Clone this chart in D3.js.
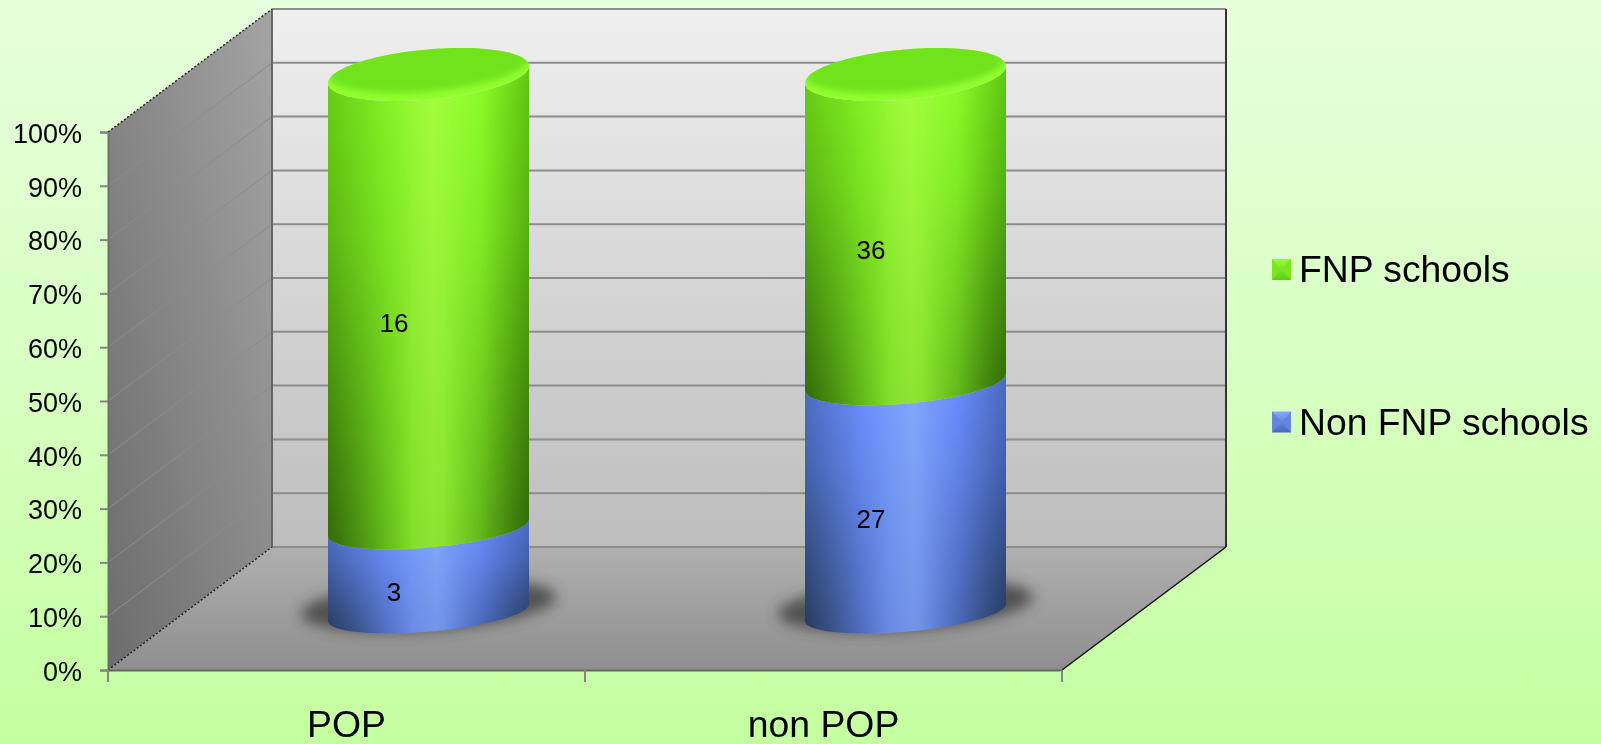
<!DOCTYPE html>
<html>
<head>
<meta charset="utf-8">
<script src="https://cdn.jsdelivr.net/npm/d3@7"></script>
<style>
html, body { margin: 0; padding: 0; background: #c6ffa6; overflow: hidden; }
svg { display: block; filter: blur(0.5px); }
text { font-family: "Liberation Sans", Arial, sans-serif; fill: #000; }
</style>
</head>
<body>
<div class="container"></div>
<script>
var width = 1601;
var height = 744;

var categories = ["POP", "non POP"];
var series_names = ["Non FNP schools", "FNP schools"];
var non_fnp_values = [3, 27];
var fnp_values = [16, 36];
var y_ticks = [0, 0.1, 0.2, 0.3, 0.4, 0.5, 0.6, 0.7, 0.8, 0.9, 1];
var legend_names = ["FNP schools", "Non FNP schools"];

// front plane of the 3d box, plus how far back the box goes
var x = d3.scaleBand().domain(categories).range([108, 1062]);
var y = d3.scaleLinear().domain([0, 1]).range([670, 132]);
var depth_x = 164;
var depth_y = -123;

// cylinders stand half way back
var bar_center = 0.5;
var bar_drop = 4;
var label_depth = 0.29;
var bar_radius = 100.5;
var tilt = 8.5;
var cap_height = d3.scaleLinear().domain([0, 1]).range([21, 26.5]);

var rows = categories.map(function(c, i) {
    var row = { category: c };
    row[series_names[0]] = non_fnp_values[i];
    row[series_names[1]] = fnp_values[i];
    return row;
});
var stacked = d3.stack().keys(series_names).offset(d3.stackOffsetExpand)(rows);

var svg = d3.select(".container").append("svg")
    .attr("width", width)
    .attr("height", height);
var defs = svg.append("defs");

function gradient(id, x1, y1, x2, y2, stops) {
    var g = defs.append("linearGradient").attr("id", id)
        .attr("x1", x1).attr("y1", y1).attr("x2", x2).attr("y2", y2);
    stops.forEach(function(s) {
        g.append("stop").attr("offset", s[0]).attr("stop-color", s[1]).attr("stop-opacity", s[2] === undefined ? 1 : s[2]);
    });
}

gradient("bg", 0, 0, 0, 1, [[0, "#e6ffdc"], [0.5, "#d8ffc2"], [1, "#c4ffa0"]]);
gradient("wall", 0, 0, 0, 1, [[0, "#efefef"], [1, "#bdbdbd"]]);
gradient("floor", 0, 0, 0, 1, [[0, "#b0b0b0"], [1, "#8e8e8e"]]);
gradient("side", 1, 0, 0, 1, [[0, "#a4a4a4"], [1, "#6c6c6c"]]);
gradient("green", 0, 0, 1, 0, [[0, "#6ad016"], [0.28, "#84f424"], [0.52, "#a4ff3e"], [0.76, "#8cff28"], [1, "#62c812"]]);
gradient("blue", 0, 0, 1, 0, [[0, "#4f6fc8"], [0.28, "#6c90ff"], [0.54, "#82a8ff"], [0.76, "#6a8eff"], [1, "#4c6cc4"]]);
gradient("shade_green", 0, 0, 0, 1, [[0, "#1c4a00", 0], [1, "#1c4a00", 0.16]]);
gradient("shade_blue", 0, 0, 0, 1, [[0, "#0c1c48", 0], [1, "#0c1c48", 0.14]]);
// edges go darker lower down: side to side layer faded in by a mask
gradient("edge", 0, 0, 1, 0, [[0, "#0a1400", 0.5], [0.42, "#0a1400", 0], [0.58, "#0a1400", 0], [1, "#0a1400", 0.5]]);
gradient("fade", 0, 0, 0, 1, [[0, "#000"], [0.35, "#333"], [1, "#fff"]]);
gradient("swatch_green_top", 0, 0, 0, 1, [[0, "#90ff30"], [1, "#5fcc14"]]);
gradient("swatch_blue_top", 0, 0, 0, 1, [[0, "#84a8ff"], [1, "#4866bc"]]);

defs.append("mask").attr("id", "edge_mask")
    .attr("maskContentUnits", "objectBoundingBox")
    .append("rect").attr("width", 1).attr("height", 1).attr("fill", "url(#fade)");

defs.append("filter").attr("id", "blur_shadow")
    .attr("x", "-30%").attr("y", "-60%").attr("width", "160%").attr("height", "220%")
    .append("feGaussianBlur").attr("stdDeviation", 7);
defs.append("filter").attr("id", "blur_cap")
    .attr("x", "-20%").attr("y", "-40%").attr("width", "140%").attr("height", "180%")
    .append("feGaussianBlur").attr("stdDeviation", 3.5);

svg.append("rect").attr("width", width).attr("height", height).attr("fill", "url(#bg)");

var x0 = x.range()[0], x1 = x.range()[1];
var bx0 = x0 + depth_x, bx1 = x1 + depth_x;
var shape = d3.line();

// back wall
svg.append("rect")
    .attr("x", bx0).attr("y", y(1) + depth_y)
    .attr("width", bx1 - bx0).attr("height", y(0) - y(1))
    .attr("fill", "url(#wall)");

// left wall
svg.append("path")
    .attr("d", shape([[x0, y(0)], [bx0, y(0) + depth_y], [bx0, y(1) + depth_y], [x0, y(1)]]) + "Z")
    .attr("fill", "url(#side)");

// floor
svg.append("path")
    .attr("d", shape([[x0, y(0)], [x1, y(0)], [bx1, y(0) + depth_y], [bx0, y(0) + depth_y]]) + "Z")
    .attr("fill", "url(#floor)");

// gridlines, back wall and left wall
svg.append("g").selectAll("line").data(y_ticks).enter().append("line")
    .attr("x1", bx0).attr("x2", bx1)
    .attr("y1", function(d) { return y(d) + depth_y; })
    .attr("y2", function(d) { return y(d) + depth_y; })
    .attr("stroke", "#8c8c8c").attr("stroke-width", 2);
svg.append("g").selectAll("line").data(y_ticks.slice(1, -1)).enter().append("line")
    .attr("x1", x0).attr("x2", bx0)
    .attr("y1", function(d) { return y(d); })
    .attr("y2", function(d) { return y(d) + depth_y; })
    .attr("stroke", "#8c8c8c").attr("stroke-width", 1);

// box edges
svg.append("line").attr("x1", bx0).attr("x2", bx0)
    .attr("y1", y(1) + depth_y).attr("y2", y(0) + depth_y)
    .attr("stroke", "#666").attr("stroke-width", 2);
svg.append("line").attr("x1", bx1).attr("x2", bx1)
    .attr("y1", y(1) + depth_y).attr("y2", y(0) + depth_y)
    .attr("stroke", "#333").attr("stroke-width", 2);
svg.append("line").attr("x1", x1).attr("x2", bx1)
    .attr("y1", y(0)).attr("y2", y(0) + depth_y)
    .attr("stroke", "#111").attr("stroke-width", 1.5);
[0, 1].forEach(function(v) {
    svg.append("line").attr("x1", x0).attr("x2", bx0)
        .attr("y1", y(v)).attr("y2", y(v) + depth_y)
        .attr("stroke", "#222").attr("stroke-width", 1.5)
        .attr("stroke-dasharray", "2,2");
});

// y axis
var y_axis = svg.append("g")
    .attr("transform", "translate(" + x0 + ",0)")
    .call(d3.axisLeft(y).tickValues(y_ticks).tickFormat(d3.format(".0%")).tickSize(8).tickPadding(18));
y_axis.select(".domain").attr("stroke", "#6e6e6e").attr("stroke-width", 2);
y_axis.selectAll("line").attr("stroke", "#858585").attr("stroke-width", 2);
y_axis.selectAll("text").attr("dy", "0.38em").style("font-size", "27px").style("font-family", "Liberation Sans");

// x axis, labels sit on the bands and ticks between them
var x_axis = svg.append("g")
    .attr("transform", "translate(0," + y(0) + ")")
    .call(d3.axisBottom(x).tickSize(0).tickPadding(37));
x_axis.select(".domain").attr("stroke", "#666").attr("stroke-width", 2);
x_axis.selectAll("text").attr("dy", "0").attr("y", 67).style("font-size", "37.4px").style("font-family", "Liberation Sans");
x_axis.selectAll("line.band_tick").data(categories.concat(["end"])).enter().append("line")
    .attr("class", "band_tick")
    .attr("x1", function(d) { return d === "end" ? x1 : x(d); })
    .attr("x2", function(d) { return d === "end" ? x1 : x(d); })
    .attr("y1", 0).attr("y2", 12)
    .attr("stroke", "#858585").attr("stroke-width", 2);

function center_x(category) {
    return x(category) + x.bandwidth() / 2 + depth_x * bar_center;
}
function center_y(v) {
    return y(v) + depth_y * bar_center + bar_drop;
}

// ring of a cylinder at value v, angle t: t=0 right, t=PI left, t=PI/2 front
function ring_point(category, v, t) {
    var h = cap_height(v);
    var a = Math.sqrt(h * h - tilt * tilt);
    return [center_x(category) + bar_radius * Math.cos(t),
            center_y(v) + a * Math.sin(t) - tilt * Math.cos(t)];
}
function front_arc(category, v, reverse) {
    var ts = d3.range(0, 41).map(function(i) { return Math.PI * i / 40; });
    if (reverse) ts.reverse();
    return ts.map(function(t) { return ring_point(category, v, t); });
}
function full_ring(category, v) {
    return shape(d3.range(0, 81).map(function(i) {
        return ring_point(category, v, Math.PI * i / 40);
    })) + "Z";
}

// shadows on the floor
svg.append("g").selectAll("path").data(categories).enter().append("path")
    .attr("d", function(c) {
        return shape(d3.range(0, 81).map(function(i) {
            var t = Math.PI * i / 40;
            return [center_x(c) + (bar_radius + 27) * Math.cos(t),
                    center_y(0) - 7 + 25 * Math.sin(t) - tilt * Math.cos(t)];
        })) + "Z";
    })
    .attr("fill", "#3c3c3c")
    .attr("opacity", 0.8)
    .attr("filter", "url(#blur_shadow)");

// cylinders, each stack layer is one barrel
var colours = ["blue", "green"];
stacked.forEach(function(layer, li) {
    var g = svg.append("g").attr("class", "layer");
    var seg = g.selectAll("g").data(layer).enter().append("g");
    function body(d) {
        var c = d.data.category;
        return shape(front_arc(c, d[0], false).concat(front_arc(c, d[1], true))) + "Z";
    }
    seg.append("path").attr("d", body).attr("fill", "url(#" + colours[li] + ")");
    seg.append("path").attr("d", body).attr("fill", "url(#shade_" + colours[li] + ")");
    seg.append("path").attr("d", body).attr("fill", "url(#edge)").attr("mask", "url(#edge_mask)");
});

// caps
var caps = svg.append("g").selectAll("g").data(categories).enter().append("g");
defs.selectAll("clipPath").data(categories).enter().append("clipPath")
    .attr("id", function(c, i) { return "cap_clip" + i; })
    .append("path").attr("d", function(c) { return full_ring(c, 1); });
caps.append("path").attr("d", function(c) { return full_ring(c, 1); }).attr("fill", "#93ff2e");
caps.append("g").attr("clip-path", function(c, i) { return "url(#cap_clip" + i + ")"; })
    .append("path")
    .attr("d", function(c) { return full_ring(c, 1); })
    .attr("transform", "translate(0,-8)")
    .attr("fill", "#6fe31e")
    .attr("filter", "url(#blur_cap)");

// value labels
stacked.forEach(function(layer) {
    svg.append("g").selectAll("text").data(layer).enter().append("text")
        .attr("x", function(d) { return x(d.data.category) + x.bandwidth() / 2 + depth_x * label_depth; })
        .attr("y", function(d) { return y((d[0] + d[1]) / 2) + depth_y * label_depth; })
        .attr("dy", "0.35em")
        .attr("text-anchor", "middle")
        .style("font-size", "26px")
        .text(function(d) { return d.data[layer.key]; });
});

// legend
var legend_y = d3.scalePoint().domain(legend_names).range([269.5, 422]);
var legend = svg.append("g").selectAll("g").data(legend_names).enter().append("g")
    .attr("transform", function(d) { return "translate(1272," + legend_y(d) + ")"; });
function legend_key(d) { return d === "FNP schools" ? "green" : "blue"; }
legend.append("rect").attr("x", 0).attr("y", -10.5).attr("width", 19).attr("height", 21)
    .attr("fill", function(d) { return "url(#swatch_" + legend_key(d) + "_top)"; });
legend.append("path")
    .attr("d", shape([[0, -10.5], [9.5, 0], [0, 10.5]]) + "Z")
    .attr("fill", function(d) { return legend_key(d) === "green" ? "#7ce420" : "#6484e0"; });
legend.append("path")
    .attr("d", shape([[19, -10.5], [9.5, 0], [19, 10.5]]) + "Z")
    .attr("fill", function(d) { return legend_key(d) === "green" ? "#7ce420" : "#6484e0"; });
legend.append("text").attr("x", 27).attr("y", 12.5)
    .style("font-size", "37.3px")
    .text(function(d) { return d; });
</script>
</body>
</html>
